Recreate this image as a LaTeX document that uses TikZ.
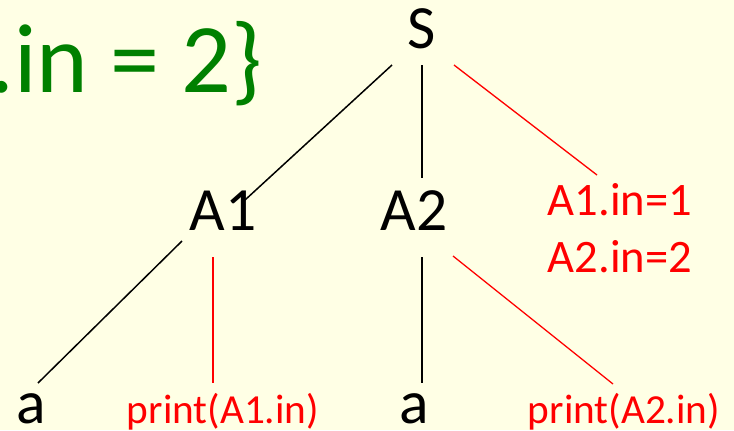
\documentclass[tikz,border=0pt]{standalone}
\usepackage{fontspec}
\setmainfont{Carlito}
\usepackage{xcolor}
\usetikzlibrary{calc}
\definecolor{paper}{HTML}{FFFFE5}
\definecolor{actred}{HTML}{FF0000}
\definecolor{attrgreen}{HTML}{008000}

\begin{document}
\begin{tikzpicture}[
  x=0.02cm,y=-0.02cm,
  sym/.style={inner sep=0pt,anchor=base,font=\fontsize{35}{42}\selectfont},
  act/.style={inner sep=0pt,anchor=base,text=actred,font=\fontsize{26.5}{32}\selectfont},
  prt/.style={inner sep=0pt,anchor=base,text=actred,font=\fontsize{23.5}{28}\selectfont},
  attr/.style={inner sep=0pt,anchor=base west,text=attrgreen,font=\fontsize{56}{66}\selectfont},
  edge/.style={draw=black,line width=0.85pt},
  redge/.style={draw=actred,line width=0.75pt}
]
\fill[paper] (0,0) rectangle (734,430);
\useasboundingbox (0,0) rectangle (734,430);

% ---- rule text, cut at the left margin
\node[attr] (rule) at (-11,92) {.in = 2\}};

% ---- tree nodes
\node[sym] (S)  at (422,48)  {S};
\node[sym] (A1) at (223,230) {A1};
\node[sym] (A2) at (414,230) {A2};
\node[act] (in1) at (620,215) {A1.in=1};
\node[act] (in2) at (620,272) {A2.in=2};
\node[sym] (a1) at (31,423)  {a};
\node[prt] (p1) at (223,423) {print(A1.in)};
\node[sym] (a2) at (414,423) {a};
\node[prt] (p2) at (624,423) {print(A2.in)};

% ---- edges
\draw[edge]  ([shift={(-30,17)}]S.base) -- ([shift={(22,-30)}]A1.base);
\draw[edge]  ([shift={(0,17)}]S.base) -- ([shift={(8,-52)}]A2.base);
\draw[redge] ([shift={(32,17)}]S.base) -- ([shift={(-23,-40)}]in1.base);
\draw[edge]  ([shift={(-41,11)}]A1.base) -- ([shift={(7,-40)}]a1.base);
\draw[redge] ([shift={(-10,27)}]A1.base) -- ([shift={(-10,-40)}]p1.base);
\draw[edge]  ([shift={(8,27)}]A2.base) -- ([shift={(8,-40)}]a2.base);
\draw[redge] ([shift={(39,26)}]A2.base) -- ([shift={(-11,-39)}]p2.base);
\end{tikzpicture}
\end{document}
